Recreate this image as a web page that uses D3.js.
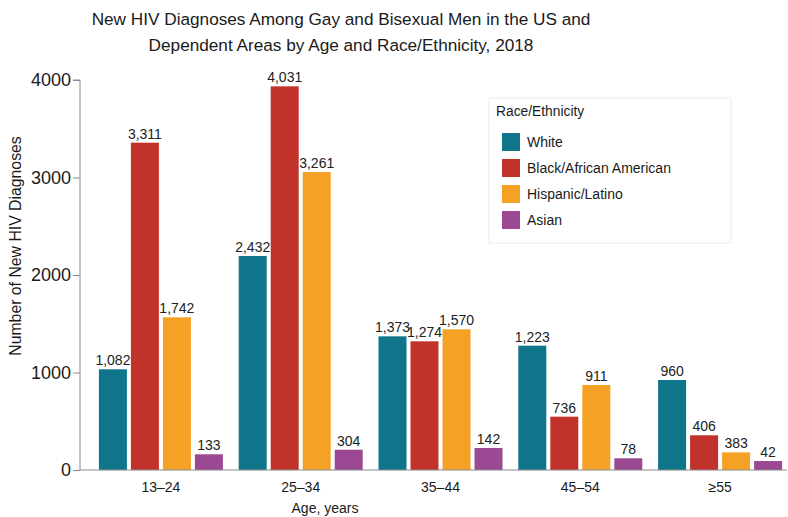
<!DOCTYPE html>
<html>
<head>
<meta charset="utf-8">
<script src="https://cdn.jsdelivr.net/npm/d3@7"></script>
<style>
  body { margin: 0; background: #fff; }
  svg { font-family: "Liberation Sans", Arial, sans-serif; }
</style>
</head>
<body>
<div id="chart"></div>
<script>
// categories and series
const ageGroups = ['13–24', '25–34', '35–44', '45–54', '≥55'];
const raceNames = ['White', 'Black/African American', 'Hispanic/Latino', 'Asian'];
const raceColors = ['#0f758a', '#c1322a', '#f5a126', '#9b4993'];

// printed value labels
const whiteLabels = [1082, 2432, 1373, 1223, 960];
const blackLabels = [3311, 4031, 1274, 736, 406];
const hispanicLabels = [1742, 3261, 1570, 911, 383];
const asianLabels = [133, 304, 142, 78, 42];

// bar heights as drawn in the picture
const whiteBars = [1033, 2195, 1371, 1275, 923];
const blackBars = [3357, 3935, 1320, 547, 356];
const hispanicBars = [1566, 3056, 1443, 872, 181];
const asianBars = [161, 208, 226, 120, 92];

const yTicks = [0, 1000, 2000, 3000, 4000];

const barSeries = [whiteBars, blackBars, hispanicBars, asianBars];
const labelSeries = [whiteLabels, blackLabels, hispanicLabels, asianLabels];

const width = 788, height = 517;

const svg = d3.select('#chart').append('svg')
  .attr('width', width)
  .attr('height', height);

const y = d3.scaleLinear().domain([0, 4000]).range([470, 80]);

const x0 = d3.scaleBand()
  .domain(ageGroups)
  .range([91, 790])
  .paddingInner(0.113)
  .paddingOuter(0.0565);

const x1 = d3.scaleBand()
  .domain(d3.range(raceNames.length))
  .range([0, x0.bandwidth()])
  .paddingInner(0.125)
  .paddingOuter(0);

// title
svg.append('text')
  .attr('x', 341).attr('y', 25)
  .attr('text-anchor', 'middle')
  .attr('font-size', 17.2)
  .attr('fill', '#1a1a1a')
  .text('New HIV Diagnoses Among Gay and Bisexual Men in the US and');
svg.append('text')
  .attr('x', 341).attr('y', 51)
  .attr('text-anchor', 'middle')
  .attr('font-size', 17.2)
  .attr('fill', '#1a1a1a')
  .text('Dependent Areas by Age and Race/Ethnicity, 2018');

// bars
const groups = svg.append('g').selectAll('g')
  .data(ageGroups)
  .join('g')
  .attr('transform', d => `translate(${x0(d)},0)`);

groups.selectAll('rect')
  .data((d, gi) => barSeries.map((s, si) => ({ si, v: s[gi] })))
  .join('rect')
  .attr('x', d => x1(d.si))
  .attr('y', d => y(d.v))
  .attr('width', x1.bandwidth())
  .attr('height', d => y(0) - y(d.v))
  .attr('fill', d => raceColors[d.si]);

groups.selectAll('text')
  .data((d, gi) => barSeries.map((s, si) => ({ si, v: s[gi], label: labelSeries[si][gi] })))
  .join('text')
  .attr('x', d => x1(d.si) + x1.bandwidth() / 2)
  .attr('y', d => y(d.v) - 4)
  .attr('text-anchor', 'middle')
  .attr('font-size', 14)
  .attr('fill', '#222')
  .text(d => d3.format(',')(d.label));

// y axis
const yAxis = svg.append('g')
  .attr('transform', 'translate(80,0)')
  .call(d3.axisLeft(y).tickValues(yTicks).tickSize(7).tickPadding(2).tickFormat(d3.format('d')));
yAxis.select('.domain').attr('stroke', '#8a8a8a').attr('d', 'M-7,80H0V470');
yAxis.selectAll('.tick line').attr('stroke', '#8a8a8a');
yAxis.selectAll('.tick text').attr('font-size', 18).attr('fill', '#1a1a1a')
  .attr('font-family', '"Liberation Sans", Arial, sans-serif');

// x axis
const xAxis = svg.append('g')
  .attr('transform', 'translate(0,470)')
  .call(d3.axisBottom(x0).tickSize(0).tickPadding(12));
xAxis.select('.domain').attr('stroke', '#8a8a8a').attr('d', 'M80,0H787');
xAxis.selectAll('.tick text').attr('font-size', 14).attr('fill', '#1a1a1a')
  .attr('font-family', '"Liberation Sans", Arial, sans-serif');

// axis titles
svg.append('text')
  .attr('transform', 'translate(21,246) rotate(-90)')
  .attr('text-anchor', 'middle')
  .attr('font-size', 15.8)
  .attr('fill', '#1a1a1a')
  .text('Number of New HIV Diagnoses');

svg.append('text')
  .attr('x', 325).attr('y', 513)
  .attr('text-anchor', 'middle')
  .attr('font-size', 14)
  .attr('fill', '#1a1a1a')
  .text('Age, years');

// legend
const legend = svg.append('g');
legend.append('rect')
  .attr('x', 489).attr('y', 98)
  .attr('width', 242).attr('height', 145)
  .attr('fill', '#fff')
  .attr('stroke', '#ececec');
legend.append('text')
  .attr('x', 496).attr('y', 116)
  .attr('font-size', 13.8)
  .attr('fill', '#1a1a1a')
  .text('Race/Ethnicity');

const items = legend.selectAll('g.item')
  .data(raceNames)
  .join('g')
  .attr('class', 'item')
  .attr('transform', (d, i) => `translate(502,${133 + i * 26})`);
items.append('rect')
  .attr('width', 18).attr('height', 18)
  .attr('fill', (d, i) => raceColors[i]);
items.append('text')
  .attr('x', 25).attr('y', 14)
  .attr('font-size', 14)
  .attr('fill', '#1a1a1a')
  .text(d => d);
</script>
</body>
</html>
